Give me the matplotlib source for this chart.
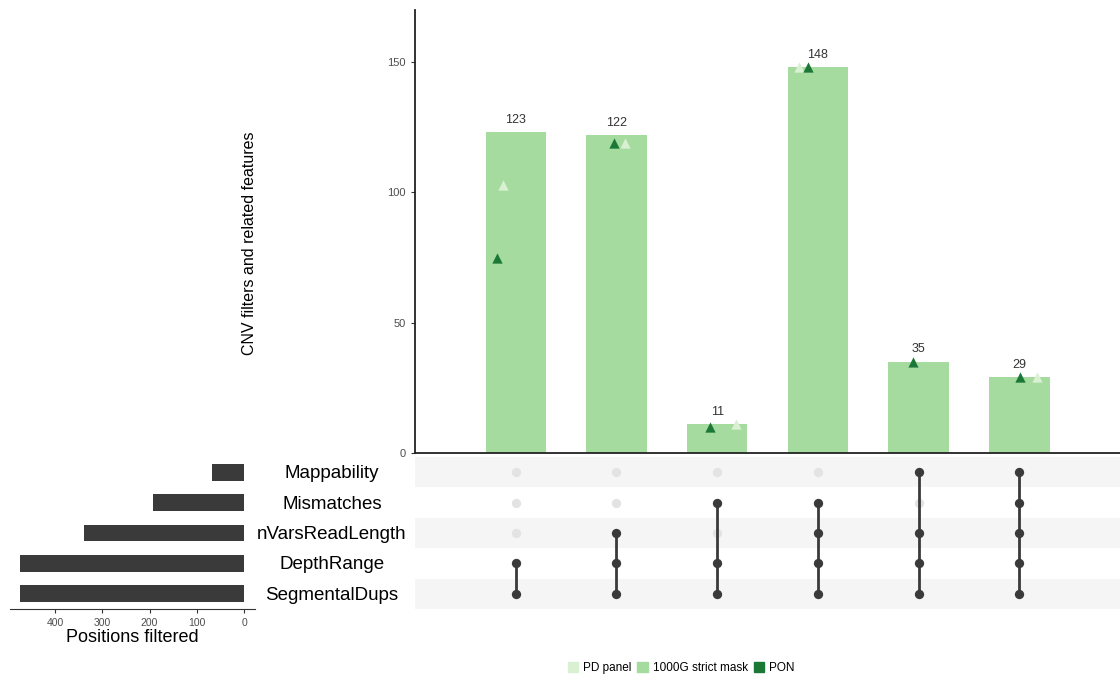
import numpy as np
import matplotlib.pyplot as plt
from matplotlib.patches import Patch

plt.rcParams['font.family'] = ['Liberation Sans', 'DejaVu Sans']

# filtres (de haut en bas dans la matrice)
filtres = ['Mappability', 'Mismatches', 'nVarsReadLength', 'DepthRange', 'SegmentalDups']
positions_filtrees = [68, 193, 339, 474, 474]

# intersections : liste des filtres actifs + taille
combinaisons = [
    ['DepthRange', 'SegmentalDups'],
    ['nVarsReadLength', 'DepthRange', 'SegmentalDups'],
    ['Mismatches', 'DepthRange', 'SegmentalDups'],
    ['Mismatches', 'nVarsReadLength', 'DepthRange', 'SegmentalDups'],
    ['Mappability', 'nVarsReadLength', 'DepthRange', 'SegmentalDups'],
    ['Mappability', 'Mismatches', 'nVarsReadLength', 'DepthRange', 'SegmentalDups'],
]
taille_1000g = [123, 122, 11, 148, 35, 29]
valeurs_pd = [103, 119, 11, 148, 35, 29]
valeurs_pon = [75, 119, 10, 148, 35, 29]
# petit décalage horizontal des triangles (jitter)
jitter_pd = [-0.13, 0.09, 0.19, -0.19, -0.06, 0.18]
jitter_pon = [-0.19, -0.02, -0.07, -0.10, -0.06, 0.01]

c_pd = '#d9f0d3'
c_1000g = '#a6dba0'
c_pon = '#1b7837'
gris_texte = '#4d4d4d'

fig = plt.figure(figsize=(11.2, 6.79), dpi=100)
W, H = 1120, 679

def zone(x0, y0, x1, y1):
    return [x0 / W, 1 - y1 / H, (x1 - x0) / W, (y1 - y0) / H]

ax_bar = fig.add_axes(zone(415, 10, 1120, 453))
ax_mat = fig.add_axes(zone(415, 457, 1120, 609))
ax_set = fig.add_axes(zone(10, 457, 255, 609))

# --- barres des intersections
x = np.arange(1, len(taille_1000g) + 1)
ax_bar.bar(x, taille_1000g, width=0.6, color=c_1000g, zorder=1)
for xi, v in zip(x, taille_1000g):
    ax_bar.text(xi, v + 2.5, str(v), ha='center', va='bottom', fontsize=9, color='#333333')
ax_bar.scatter(x + np.array(jitter_pd), valeurs_pd, marker='^', s=55, color=c_pd, zorder=2, linewidths=0)
ax_bar.scatter(x + np.array(jitter_pon), valeurs_pon, marker='^', s=55, color=c_pon, zorder=3, linewidths=0)
ax_bar.set_xlim(0, 7)
ax_bar.set_ylim(0, 170)
ax_bar.set_yticks([0, 50, 100, 150])
ax_bar.set_xticks([])
ax_bar.tick_params(axis='y', labelsize=8, labelcolor=gris_texte, length=3, width=0.8, color='#333333')
for s in ['top', 'right']:
    ax_bar.spines[s].set_visible(False)
for s in ['left', 'bottom']:
    ax_bar.spines[s].set_linewidth(1.3)
    ax_bar.spines[s].set_color('#222222')
fig.text(250 / W, 1 - 243 / H, 'CNV filters and related features', rotation=90,
         ha='center', va='center', fontsize=11.5)

# --- matrice
n = len(filtres)
ligne_y = {f: n - 1 - i for i, f in enumerate(filtres)}
for i, f in enumerate(filtres):
    if i % 2 == 0:
        ax_mat.axhspan(ligne_y[f] - 0.5, ligne_y[f] + 0.5, color='#f5f5f5', zorder=0, lw=0)
for xi, combo in zip(x, combinaisons):
    ys_actifs = [ligne_y[f] for f in combo]
    ys_inactifs = [ligne_y[f] for f in filtres if f not in combo]
    ax_mat.scatter([xi] * len(ys_inactifs), ys_inactifs, s=45, color='#e3e3e3', zorder=1, linewidths=0)
    ax_mat.plot([xi, xi], [min(ys_actifs), max(ys_actifs)], color='#3a3a3a', lw=2, zorder=2)
    ax_mat.scatter([xi] * len(ys_actifs), ys_actifs, s=45, color='#3a3a3a', zorder=3, linewidths=0)
ax_mat.set_xlim(0, 7)
ax_mat.set_ylim(-0.5, n - 0.5)
ax_mat.axis('off')

# --- tailles des filtres
ys = [ligne_y[f] for f in filtres]
ax_set.barh(ys, positions_filtrees, height=0.55, color='#3a3a3a')
ax_set.set_xlim(495, -23)
ax_set.set_ylim(-0.5, n - 0.5)
ax_set.set_yticks([])
ax_set.set_xticks([400, 300, 200, 100, 0])
ax_set.tick_params(axis='x', labelsize=7.5, labelcolor=gris_texte, length=3, color='#333333')
for s in ['top', 'right', 'left']:
    ax_set.spines[s].set_visible(False)
ax_set.spines['bottom'].set_color('#333333')
ax_set.set_xlabel('Positions filtered', fontsize=13, labelpad=1)

# noms des filtres
for f in filtres:
    ax_set.text(1.314, ligne_y[f] - 0.05, f, transform=ax_set.get_yaxis_transform(), ha='center',
                va='center', fontsize=13.5)

# --- légende
handles = [Patch(color=c_pd, label='PD panel'),
           Patch(color=c_1000g, label='1000G strict mask'),
           Patch(color=c_pon, label='PON')]
fig.legend(handles=handles, loc='center', bbox_to_anchor=(681 / W, 1 - 668 / H), ncol=3,
           frameon=False, fontsize=8.5, handlelength=0.9, handleheight=0.9,
           handletextpad=0.4, columnspacing=0.5)

fig.savefig('out.png', dpi=100)
